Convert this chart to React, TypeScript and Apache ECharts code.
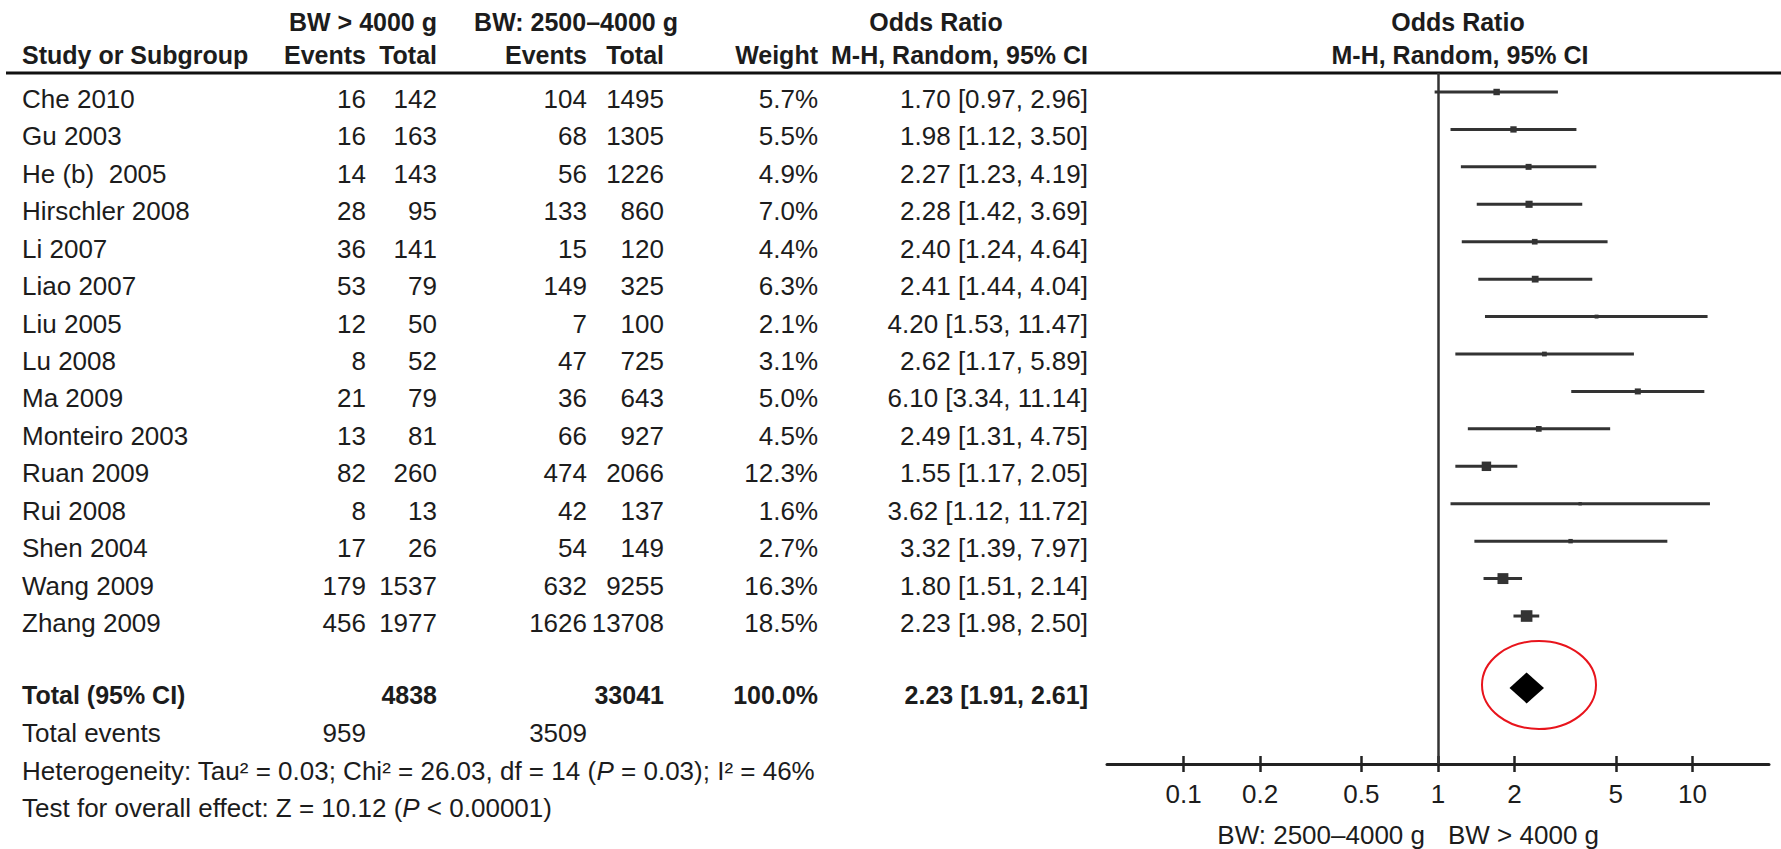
import React, { useEffect, useRef } from "react";
import * as echarts from "echarts";

const studies = ["Che 2010", "Gu 2003", "He (b)  2005", "Hirschler 2008", "Li 2007", "Liao 2007", "Liu 2005", "Lu 2008", "Ma 2009", "Monteiro 2003", "Ruan 2009", "Rui 2008", "Shen 2004", "Wang 2009", "Zhang 2009"];
const events1 = [16, 16, 14, 28, 36, 53, 12, 8, 21, 13, 82, 8, 17, 179, 456];
const total1 = [142, 163, 143, 95, 141, 79, 50, 52, 79, 81, 260, 13, 26, 1537, 1977];
const events2 = [104, 68, 56, 133, 15, 149, 7, 47, 36, 66, 474, 42, 54, 632, 1626];
const total2 = [1495, 1305, 1226, 860, 120, 325, 100, 725, 643, 927, 2066, 137, 149, 9255, 13708];
const weights = [5.7, 5.5, 4.9, 7.0, 4.4, 6.3, 2.1, 3.1, 5.0, 4.5, 12.3, 1.6, 2.7, 16.3, 18.5];
const oddsRatio = [1.70, 1.98, 2.27, 2.28, 2.40, 2.41, 4.20, 2.62, 6.10, 2.49, 1.55, 3.62, 3.32, 1.80, 2.23];
const ciLow = [0.97, 1.12, 1.23, 1.42, 1.24, 1.44, 1.53, 1.17, 3.34, 1.31, 1.17, 1.12, 1.39, 1.51, 1.98];
const ciHigh = [2.96, 3.50, 4.19, 3.69, 4.64, 4.04, 11.47, 5.89, 11.14, 4.75, 2.05, 11.72, 7.97, 2.14, 2.50];

const totalOR = 2.23;
const totalLow = 1.91;
const totalHigh = 2.61;
const totalN1 = 4838;
const totalN2 = 33041;
const totalEvents1 = 959;
const totalEvents2 = 3509;
const totalWeight = "100.0%";

const axisTicks = [0.1, 0.2, 0.5, 1, 2, 5, 10];

const FONT = '"Liberation Sans", Arial, sans-serif';
const FS = 26;
const FSB = 25;
const TXT = "#1c1c1c";

const TOTAL_ROW = 15.92;
const ROW0 = 92;
const ROWH = 37.43;
const GRID_TOP = 73;
const GRID_BOTTOM = 764;
const Y_MIN = (GRID_TOP - ROW0) / ROWH;
const Y_MAX = (GRID_BOTTOM - ROW0) / ROWH;

function txt(x: number, y: number, text: string, align: string = "left", bold = false, extra: any = {}) {
  return {
    type: "text",
    x,
    y,
    silent: true,
    style: {
      text,
      fill: TXT,
      font: bold ? `bold ${FSB}px ${FONT}` : `${FS}px ${FONT}`,
      align,
      verticalAlign: "middle",
      ...extra,
    },
  };
}

const fmt2 = (v: number) => v.toFixed(2);
const ciText = (o: number, l: number, h: number) => `${fmt2(o)} [${fmt2(l)}, ${fmt2(h)}]`;

export default function App() {
  const ref = useRef<HTMLDivElement>(null);
  useEffect(() => {
    if (!ref.current) return;
    const chart = echarts.init(ref.current, undefined, { renderer: "svg" });

    const colX = { name: 22, e1: 366, t1: 437, e2: 587, t2: 664, w: 818, or: 1088 };
    const textY = (i: number) => ROW0 + ROWH * i + 7;

    const graphics: any[] = [];
    graphics.push(txt(363, 22, "BW > 4000 g", "center", true));
    graphics.push(txt(576, 22, "BW: 2500\u20134000 g", "center", true));
    graphics.push(txt(936, 22, "Odds Ratio", "center", true));
    graphics.push(txt(1458, 22, "Odds Ratio", "center", true));
    const h2 = 55;
    graphics.push(txt(colX.name, h2, "Study or Subgroup", "left", true));
    graphics.push(txt(colX.e1, h2, "Events", "right", true));
    graphics.push(txt(colX.t1, h2, "Total", "right", true));
    graphics.push(txt(colX.e2, h2, "Events", "right", true));
    graphics.push(txt(colX.t2, h2, "Total", "right", true));
    graphics.push(txt(colX.w, h2, "Weight", "right", true));
    graphics.push(txt(colX.or, h2, "M-H, Random, 95% CI", "right", true));
    graphics.push(txt(1460, h2, "M-H, Random, 95% CI", "center", true));
    graphics.push({
      type: "line",
      silent: true,
      shape: { x1: 6, y1: GRID_TOP, x2: 1781, y2: GRID_TOP },
      style: { stroke: "#111", lineWidth: 3 },
    });

    studies.forEach((s, i) => {
      const y = textY(i);
      graphics.push(txt(colX.name, y, s));
      graphics.push(txt(colX.e1, y, String(events1[i]), "right"));
      graphics.push(txt(colX.t1, y, String(total1[i]), "right"));
      graphics.push(txt(colX.e2, y, String(events2[i]), "right"));
      graphics.push(txt(colX.t2, y, String(total2[i]), "right"));
      graphics.push(txt(colX.w, y, weights[i].toFixed(1) + "%", "right"));
      graphics.push(txt(colX.or, y, ciText(oddsRatio[i], ciLow[i], ciHigh[i]), "right"));
    });

    const ty = textY(TOTAL_ROW);
    graphics.push(txt(colX.name, ty, "Total (95% CI)", "left", true));
    graphics.push(txt(colX.t1, ty, String(totalN1), "right", true));
    graphics.push(txt(colX.t2, ty, String(totalN2), "right", true));
    graphics.push(txt(colX.w, ty, totalWeight, "right", true));
    graphics.push(txt(colX.or, ty, ciText(totalOR, totalLow, totalHigh), "right", true));

    const ey = ty + 38;
    graphics.push(txt(colX.name, ey, "Total events"));
    graphics.push(txt(colX.e1, ey, String(totalEvents1), "right"));
    graphics.push(txt(colX.e2, ey, String(totalEvents2), "right"));

    const rich = { i: { fontStyle: "italic", font: `italic ${FS}px ${FONT}`, fill: TXT } };
    graphics.push(
      txt(colX.name, ey + 38, "Heterogeneity: Tau\u00b2 = 0.03; Chi\u00b2 = 26.03, df = 14 ({i|P} = 0.03); I\u00b2 = 46%", "left", false, { rich })
    );
    graphics.push(txt(colX.name, ey + 75, "Test for overall effect: Z = 10.12 ({i|P} < 0.00001)", "left", false, { rich }));

    graphics.push(txt(1425, 835, "BW: 2500\u20134000 g", "right"));
    graphics.push(txt(1448, 835, "BW > 4000 g", "left"));

    graphics.push({
      type: "ellipse",
      silent: true,
      shape: { cx: 1539, cy: 685, rx: 57, ry: 44 },
      style: { fill: "none", stroke: "#e8141c", lineWidth: 2 },
    });

    const studyData = studies.map((_, i) => [ciLow[i], ciHigh[i], oddsRatio[i], i, weights[i]]);

    const axisBase = {
      type: "log",
      logBase: 10,
      min: 0.05,
      max: 20,
      gridIndex: 0,
      splitLine: { show: false },
      minorTick: { show: false },
    };

    chart.setOption({
      animation: false,
      backgroundColor: "#ffffff",
      grid: { left: 1107, right: 12, top: GRID_TOP, bottom: 849 - GRID_BOTTOM, containLabel: false, outerBoundsMode: "none" },
      xAxis: [
        {
          ...axisBase,
          position: "bottom",
          axisLine: { show: true, onZero: false, lineStyle: { color: "#222", width: 3 } },
          axisTick: { show: true, length: 8, inside: false, customValues: axisTicks, lineStyle: { color: "#222", width: 2.5 } },
          axisLabel: {
            show: true,
            customValues: axisTicks,
            margin: 17,
            color: TXT,
            fontSize: FS,
            fontFamily: FONT,
            formatter: (v: number) => String(v),
          },
        },
        {
          ...axisBase,
          position: "top",
          offset: -(GRID_BOTTOM - GRID_TOP),
          axisLine: { show: false, onZero: false },
          axisTick: { show: true, length: 8, inside: false, customValues: axisTicks, lineStyle: { color: "#222", width: 2.5 } },
          axisLabel: { show: false },
        },
      ],
      yAxis: { type: "value", min: Y_MIN, max: Y_MAX, inverse: true, show: false },
      series: [
        {
          type: "custom",
          name: "studies",
          xAxisIndex: 0,
          yAxisIndex: 0,
          encode: { x: [0, 1, 2], y: 3 },
          data: studyData,
          renderItem: (params: any, api: any) => {
            const p0 = api.coord([api.value(0), api.value(3)]);
            const p1 = api.coord([api.value(1), api.value(3)]);
            const pc = api.coord([api.value(2), api.value(3)]);
            const side = 2.7 * Math.sqrt(api.value(4));
            return {
              type: "group",
              children: [
                {
                  type: "line",
                  shape: { x1: p0[0], y1: p0[1], x2: p1[0], y2: p1[1] },
                  style: { stroke: "#333333", lineWidth: 3 },
                },
                {
                  type: "rect",
                  shape: { x: pc[0] - side / 2, y: pc[1] - side / 2, width: side, height: side },
                  style: { fill: "#333333" },
                },
              ],
            };
          },
          markLine: {
            silent: true,
            symbol: "none",
            label: { show: false },
            lineStyle: { color: "#333", width: 2.5, type: "solid" },
            data: [{ xAxis: 1 }],
          },
        },
        {
          type: "custom",
          name: "total",
          xAxisIndex: 0,
          yAxisIndex: 0,
          encode: { x: [0, 1, 2], y: 3 },
          data: [[totalLow, totalHigh, totalOR, TOTAL_ROW]],
          renderItem: (params: any, api: any) => {
            const p0 = api.coord([api.value(0), api.value(3)]);
            const p1 = api.coord([api.value(1), api.value(3)]);
            const pc = api.coord([api.value(2), api.value(3)]);
            const hh = 15.5;
            return {
              type: "polygon",
              shape: { points: [[p0[0], p0[1]], [pc[0], pc[1] - hh], [p1[0], p1[1]], [pc[0], pc[1] + hh]] },
              style: { fill: "#000" },
            };
          },
        },
      ],
      graphic: graphics,
    });
    return () => chart.dispose();
  }, []);
  return <div ref={ref} style={{ position: "fixed", left: 0, top: 0, width: 1781, height: 849, background: "#fff" }} />;
}
